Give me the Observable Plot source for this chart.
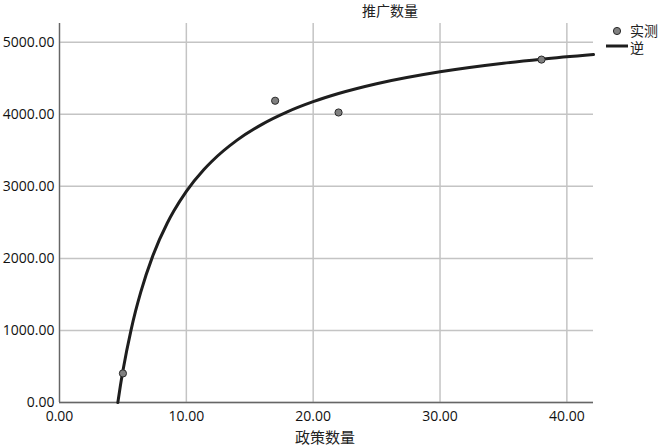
<!DOCTYPE html>
<html>
<head>
<meta charset="utf-8">
<script src="https://cdn.jsdelivr.net/npm/d3@7"></script>
<script src="https://cdn.jsdelivr.net/npm/@observablehq/plot@0.6"></script>
<style>
  html, body { margin: 0; padding: 0; background: #fff; }
  #wrap { position: relative; width: 661px; height: 446px; overflow: hidden; font-family: "Noto Sans CJK SC", "Noto Sans", sans-serif; }
  #wrap svg { position: absolute; left: 0; top: 0; }
  .cjk { position: absolute; font-family: "Noto Sans CJK SC", sans-serif; color: #222; white-space: nowrap; line-height: 1; }
</style>
</head>
<body>
<div id="wrap"></div>
<script>
// Observed data (实测)
const policyCounts = [5, 17, 22, 38];
const promoCounts = [404, 4188, 4025, 4759];

// Fitted inverse curve (逆)
const curveX = [4.6, 4.8, 5, 5.64, 6, 6.4, 7.34, 8.5, 9, 10, 11.37, 12, 14, 16, 17.96, 20, 22, 25, 30, 35, 38, 42.1];
const curveY = [0, 232, 440, 1005, 1270, 1529, 2028, 2491, 2653, 2930, 3230, 3345, 3641, 3864, 4034, 4175, 4288, 4424, 4590, 4709, 4765, 4829];

// Tick labels
const xTicks = [0, 10, 20, 30, 40];
const yTicks = [0, 1000, 2000, 3000, 4000, 5000];

const titleText = "推广数量";
const xLabel = "政策数量";
const legendPoint = "实测";
const legendLine = "逆";

const observed = policyCounts.map((x, i) => ({x, y: promoCounts[i]}));
const curve = curveX.map((x, i) => ({x, y: curveY[i]}));

const chart = Plot.plot({
  width: 661,
  height: 446,
  marginLeft: 59,
  marginRight: 68,
  marginTop: 23,
  marginBottom: 44,
  style: { fontFamily: "'Open Sans', sans-serif", fontSize: "14px", color: "#111", background: "#fff" },
  x: { domain: [0, 42.1], ticks: xTicks, tickFormat: d => d.toFixed(2), label: null, tickSize: 0, tickPadding: 9 },
  y: { domain: [0, 5260], ticks: yTicks, tickFormat: d => d.toFixed(2), label: null, tickSize: 0, tickPadding: 5 },
  marks: [
    Plot.gridX(xTicks, { stroke: "#c4c4c4", strokeOpacity: 1, strokeWidth: 1.5 }),
    Plot.gridY(yTicks, { stroke: "#c4c4c4", strokeOpacity: 1, strokeWidth: 1.5 }),
    Plot.axisX(xTicks, { tickFormat: d => d.toFixed(2), tickSize: 0, tickPadding: 9, label: null, fontSize: 14 }),
    Plot.axisY(yTicks, { tickFormat: d => d.toFixed(2), tickSize: 0, tickPadding: 5, label: null, fontSize: 14 }),
    Plot.ruleY([0], { stroke: "#666", strokeWidth: 1.3 }),
    Plot.ruleX([0], { stroke: "#666", strokeWidth: 1.3 }),
    Plot.line(curve, { x: "x", y: "y", stroke: "#1e1e1e", strokeWidth: 3, curve: "monotone-x" }),
    Plot.dot(observed, { x: "x", y: "y", r: 3.6, fill: "#808080", stroke: "#2a2a2a", strokeWidth: 1 })
  ]
});

const wrap = document.getElementById("wrap");
wrap.appendChild(chart);

function addText(t, left, top, size) {
  const d = document.createElement("div");
  d.className = "cjk";
  d.textContent = t;
  d.style.left = left + "px";
  d.style.top = top + "px";
  d.style.fontSize = size + "px";
  wrap.appendChild(d);
  return d;
}
// title
addText(titleText, 362, 3, 14);
// x label
addText(xLabel, 295, 429, 15);

// legend
const leg = document.createElementNS("http://www.w3.org/2000/svg", "svg");
leg.setAttribute("width", 661); leg.setAttribute("height", 446);
leg.style.position = "absolute"; leg.style.left = "0"; leg.style.top = "0"; leg.style.pointerEvents = "none";
leg.innerHTML = `<circle cx="617" cy="31" r="3.6" fill="#808080" stroke="#2a2a2a" stroke-width="1"/>
<line x1="606" y1="46" x2="628" y2="46" stroke="#1e1e1e" stroke-width="3"/>`;
wrap.appendChild(leg);
addText(legendPoint, 630, 23, 14);
addText(legendLine, 630, 40, 14);
</script>
</body>
</html>
